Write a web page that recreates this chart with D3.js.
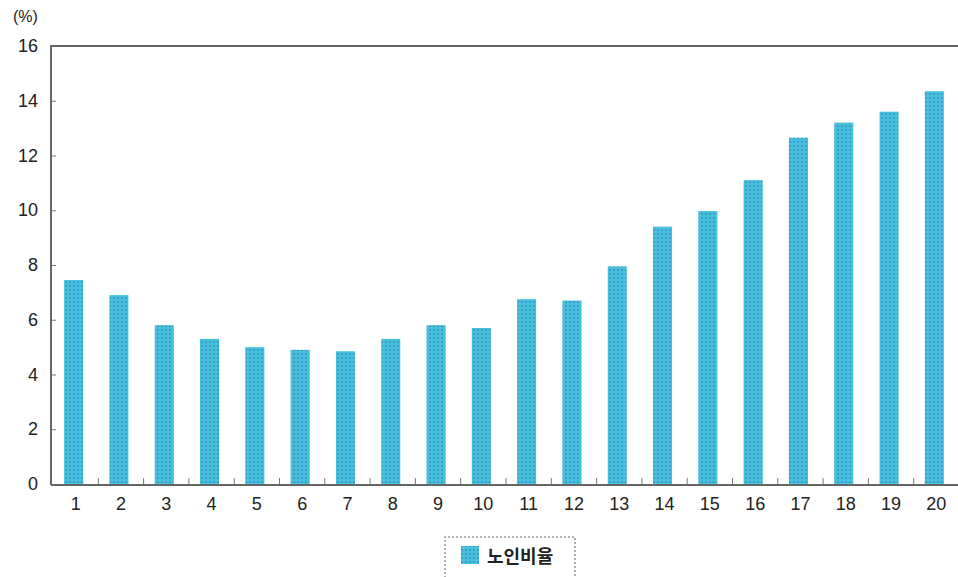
<!DOCTYPE html>
<html><head><meta charset="utf-8">
<script src="https://cdn.jsdelivr.net/npm/d3@7"></script>
<style>body{margin:0;background:#fff}svg{display:block}</style>
</head><body>
<svg id="c" width="958" height="577"></svg>
<script>
const categories = ["1","2","3","4","5","6","7","8","9","10","11","12","13","14","15","16","17","18","19","20"];
const values = [7.45, 6.9, 5.8, 5.3, 5.0, 4.9, 4.85, 5.3, 5.8, 5.7, 6.75, 6.7, 7.95, 9.4, 9.97, 11.1, 12.65, 13.2, 13.6, 14.35];
const yTicks = [0, 2, 4, 6, 8, 10, 12, 14, 16];
const seriesName = "노인비율";
const unitLabel = "(%)";

const svg = d3.select("#c");
const L = 51, R = 957, T = 46, B = 484;
const font = "'Liberation Sans', Arial, sans-serif";

const defs = svg.append("defs");
const pat = defs.append("pattern").attr("id","dots").attr("width",4).attr("height",4).attr("patternUnits","userSpaceOnUse");
pat.append("rect").attr("width",4).attr("height",4).attr("fill","#45c2da");
pat.append("rect").attr("x",1).attr("y",1).attr("width",2).attr("height",2).attr("fill","#3d9ad2");

const x = d3.scaleBand().domain(categories).range([L, R]).paddingInner(0.58).paddingOuter(0.29);
const y = d3.scaleLinear().domain([0, 16]).range([B, T]);

// bars
svg.append("g").selectAll("rect").data(values).join("rect")
  .attr("x", (d,i) => x(categories[i]))
  .attr("y", d => y(d))
  .attr("width", x.bandwidth())
  .attr("height", d => y(0) - y(d))
  .attr("fill", "url(#dots)");

// y axis
const yAxis = svg.append("g").attr("transform", `translate(${L},0)`)
  .call(d3.axisRight(y).tickValues(yTicks).tickSize(5).tickFormat(""));
yAxis.select(".domain").remove();
yAxis.selectAll(".tick line").attr("stroke", "#777");
svg.append("g").selectAll("text").data(yTicks).join("text")
  .attr("x", 38).attr("y", d => y(d) + 6)
  .attr("text-anchor", "end").attr("font-family", font).attr("font-size", 18).attr("fill", "#222")
  .text(d => d);

// x axis ticks at band boundaries
const step = x.step();
const bounds = categories.slice(1).map(c => x(c) - (step - x.bandwidth())/2 + 2);
svg.append("g").selectAll("line").data(bounds).join("line")
  .attr("x1", d => d).attr("x2", d => d).attr("y1", B).attr("y2", B - 6)
  .attr("stroke", "#777").attr("stroke-width", 1);

const xAxis = svg.append("g").attr("transform", `translate(0,${B})`)
  .call(d3.axisBottom(x).tickSize(0).tickPadding(13));
xAxis.select(".domain").remove();
xAxis.selectAll("text").attr("font-family", font).attr("font-size", 18).attr("fill", "#222").attr("dx", 2);

// frame
svg.append("path").attr("d", `M${L},${B+1}V${T}H958`).attr("fill","none").attr("stroke","#666").attr("stroke-width",2);
svg.append("line").attr("x1", L).attr("x2", 958).attr("y1", B+1).attr("y2", B+1).attr("stroke","#666").attr("stroke-width",2);

// unit label
svg.append("text").attr("x", 13).attr("y", 22).attr("font-family", font).attr("font-size", 16).attr("fill","#222").text(unitLabel);

// legend
const lg = svg.append("g");
lg.append("path").attr("d","M445,590V537H575V590").attr("fill","none").attr("stroke","#999").attr("stroke-width",1.5).attr("stroke-dasharray","2,2");
lg.append("rect").attr("x",461).attr("y",546).attr("width",18).attr("height",18).attr("fill","url(#dots)");
lg.append("text").attr("x",487).attr("y",563).attr("font-family","'Noto Sans CJK KR', sans-serif").attr("font-size",18).attr("font-weight","bold").attr("fill","#222").text(seriesName);
</script>
</body></html>
